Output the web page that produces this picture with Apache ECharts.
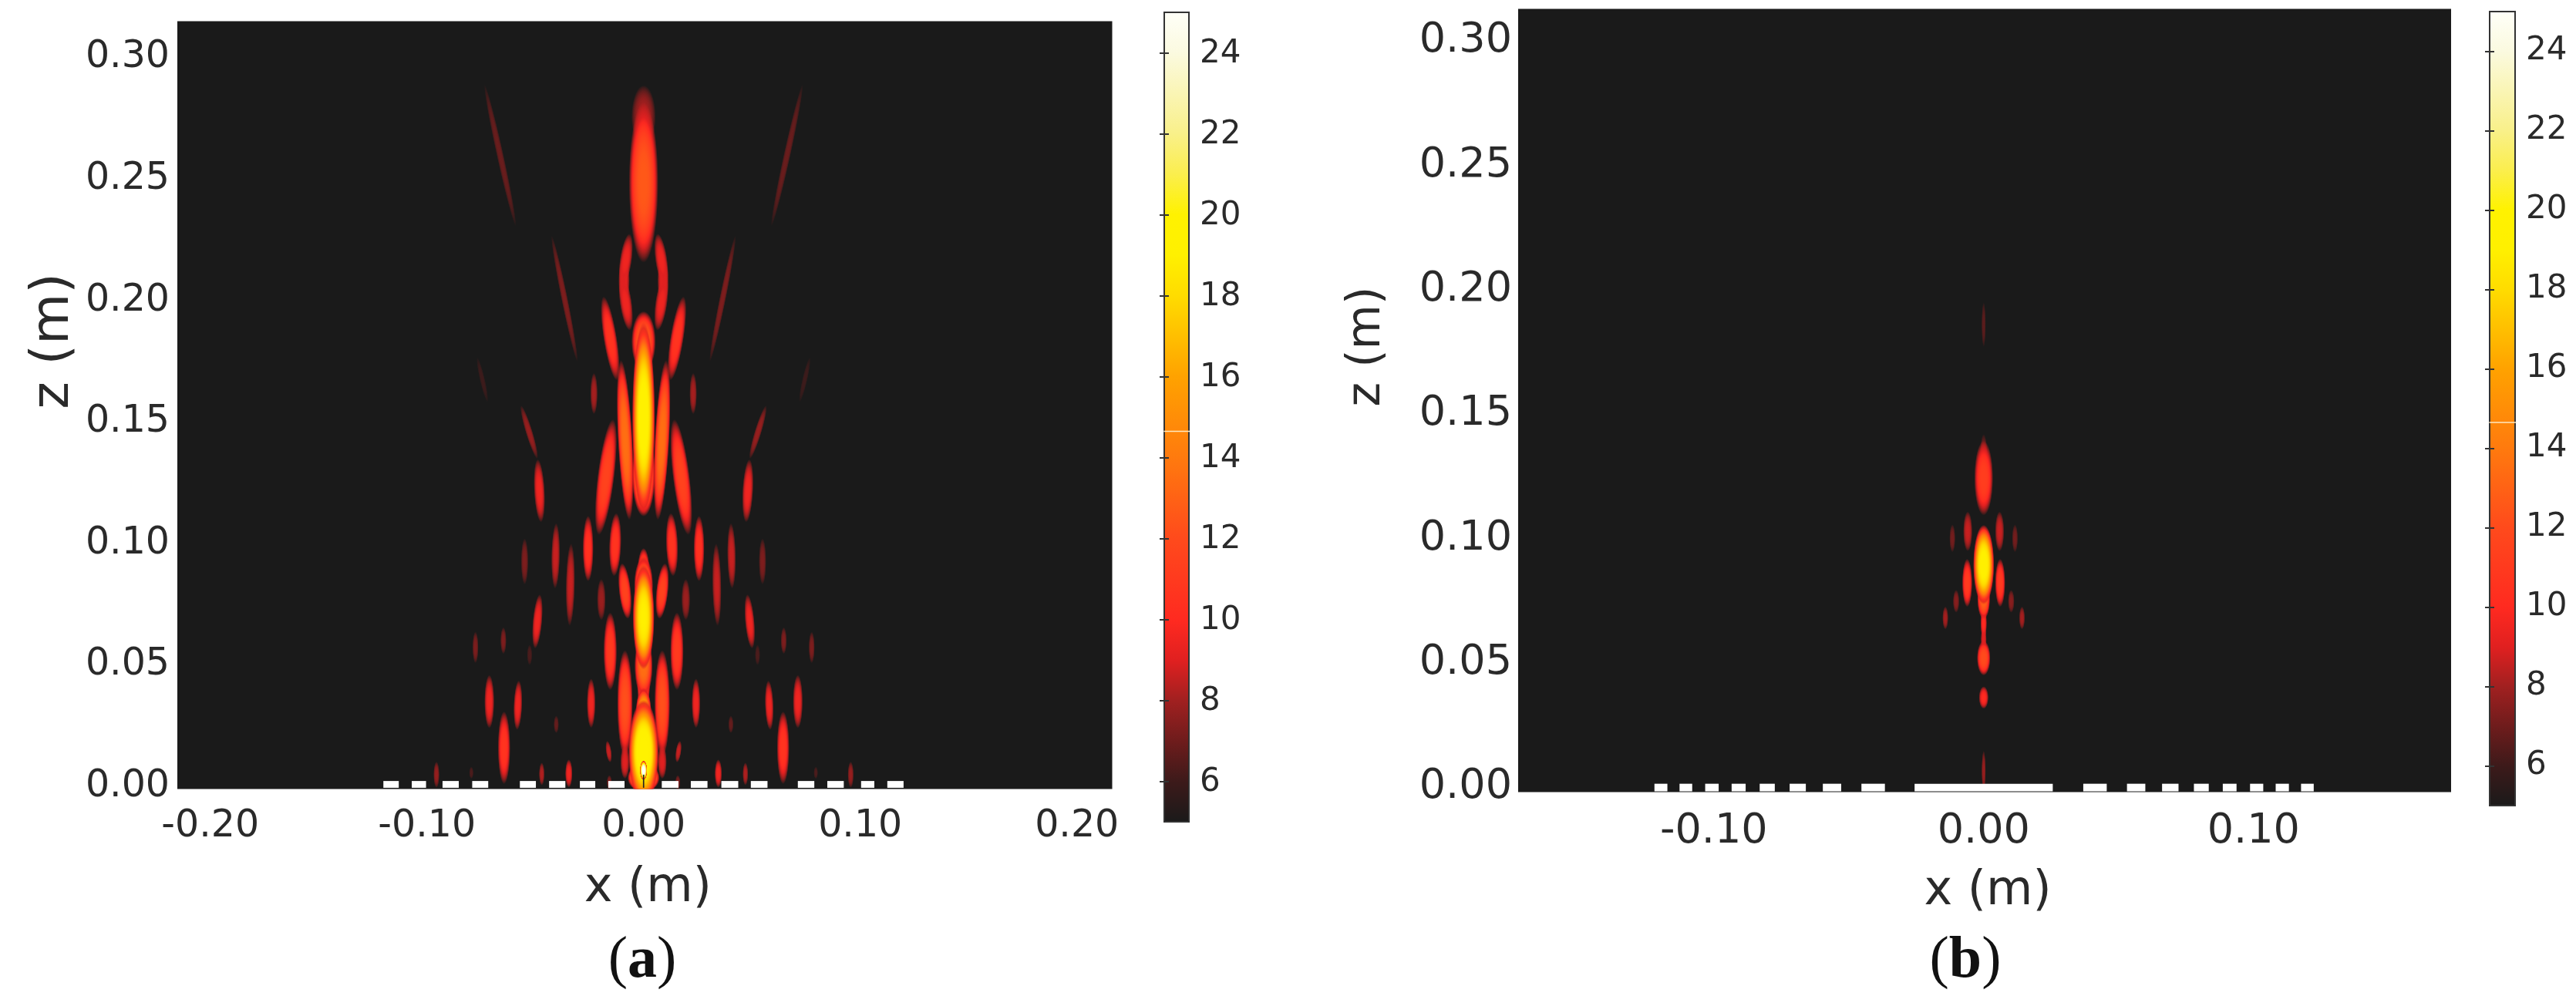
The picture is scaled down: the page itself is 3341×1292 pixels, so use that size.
<!DOCTYPE html>
<html><head><meta charset="utf-8">
<style>html,body{margin:0;padding:0;background:#fff}#c{width:3341px;height:1292px}</style>
<script src="https://cdn.jsdelivr.net/npm/echarts@6/dist/echarts.min.js"></script>
</head><body><div id="c"></div>
<script>
// ---------- data ----------
const zTicks = [0, 0.05, 0.10, 0.15, 0.20, 0.25, 0.30];
const xTicksA = [-0.20, -0.10, 0, 0.10, 0.20];
const xTicksB = [-0.10, 0, 0.10];
const barTicks = [6, 8, 10, 12, 14, 16, 18, 20, 22, 24];
const barSeam = 14.65;
const colorValues = [5, 6, 7, 8, 9, 10, 12, 14, 16, 18, 19, 20, 21, 22, 24, 25];
const colorHex = ['#1a1a1a','#3c1a1a','#6e1c1c','#a02020','#e02020','#ff2a20','#ff4a1c','#ff7a0e','#ffa200','#ffdc00','#fff000','#fff200','#fbee4e','#f9f08a','#fbfae0','#fffff8'];

// lobes: [x, z, half width, half height, peak level, lean in degrees]
const centerLobesA = [
  [0, 0.2740, 0.0056, 0.0130, 7.8, 0],
  [0, 0.2470, 0.0068, 0.0330, 12.6, 0],
  [0, 0.1815, 0.0056, 0.0125, 13, 0],
  [0, 0.1500, 0.0053, 0.0395, 19.5, 0],
  [0, 0.1270, 0.0054, 0.0175, 15, 0],
  [0, 0.0870, 0.0028, 0.0095, 12, 0],
  [0, 0.0810, 0.0044, 0.0120, 14, 0],
  [0, 0.0680, 0.0050, 0.0215, 19, 0],
  [0, 0.0480, 0.0042, 0.0130, 13.5, 0],
  [0, 0.0400, 0.0030, 0.0110, 12, 0],
  [0, 0.0290, 0.0036, 0.0100, 16, 0],
  [0, 0.0125, 0.0070, 0.0215, 20, 0],
  [0, 0.0020, 0.0074, 0.0060, 17, 0],
  [0, 0.0050, 0.0017, 0.0040, 25, 0]
];
const sideLobesA = [
  [0.0082, 0.2150, 0.0028, 0.0110, 9.5, -8],
  [0.0090, 0.2066, 0.0026, 0.0100, 9.3, 0],
  [0.0082, 0.1975, 0.0028, 0.0115, 9.5, 8],
  [0.0085, 0.1410, 0.0034, 0.0330, 13.5, 3],
  [0.0154, 0.1828, 0.0031, 0.0175, 10.6, 9],
  [0.0174, 0.1257, 0.0039, 0.0240, 11.5, -7],
  [0.0229, 0.1601, 0.0017, 0.0085, 7.8, 0],
  [0.0365, 0.1992, 0.0015, 0.0265, 7.0, 11.5],
  [0.0662, 0.2582, 0.0016, 0.0300, 6.6, 12.4],
  [0.0744, 0.1658, 0.0012, 0.0095, 5.7, 13],
  [0.0528, 0.1442, 0.0016, 0.0115, 7.5, 17],
  [0.0481, 0.1201, 0.0025, 0.0130, 9.5, 3],
  [0.0131, 0.0979, 0.0028, 0.0130, 10.6, -2],
  [0.0086, 0.0788, 0.0028, 0.0115, 11.5, 6],
  [0.0256, 0.0963, 0.0025, 0.0135, 10.5, 0],
  [0.0406, 0.0933, 0.0020, 0.0135, 8.5, -1],
  [0.0549, 0.0910, 0.0017, 0.0095, 7.0, 0],
  [0.0338, 0.0814, 0.0021, 0.0170, 8.5, -1],
  [0.0195, 0.0753, 0.0020, 0.0085, 7.6, 0],
  [0.0154, 0.0540, 0.0031, 0.0160, 11.0, 0],
  [0.0086, 0.0325, 0.0036, 0.0220, 12.2, 0],
  [0.0490, 0.0663, 0.0022, 0.0112, 9.5, -5],
  [0.0242, 0.0326, 0.0020, 0.0102, 9.5, 0],
  [0.0161, 0.0127, 0.0013, 0.0045, 8.5, 8],
  [0.0580, 0.0318, 0.0020, 0.0102, 9.5, -2],
  [0.0712, 0.0333, 0.0023, 0.0110, 9.5, 0],
  [0.0647, 0.0584, 0.0014, 0.0055, 7.0, 0],
  [0.0776, 0.0556, 0.0014, 0.0065, 7.0, 0],
  [0.0526, 0.0525, 0.0012, 0.0042, 6.0, 0],
  [0.0644, 0.0143, 0.0029, 0.0150, 10.6, 0],
  [0.0403, 0.0239, 0.0012, 0.0036, 6.5, 0],
  [0.0345, 0.0037, 0.0017, 0.0058, 9.5, 0],
  [0.0470, 0.0035, 0.0013, 0.0047, 8.0, 0],
  [0.0956, 0.0032, 0.0014, 0.0054, 7.5, 0],
  [0.0795, 0.0040, 0.0010, 0.0025, 6.0, 0],
  [0.0158, 0.0000, 0.0012, 0.0030, 7.0, 0],
  [0.0086, 0.0085, 0.0021, 0.0070, 9.0, 0]
];
const centerLobesB = [
  [0, 0.1243, 0.0035, 0.0150, 11.2, 0],
  [0, 0.1330, 0.0014, 0.0090, 7.0, 0],
  [0, 0.0895, 0.0039, 0.0160, 19.2, 0],
  [0, 0.0760, 0.0024, 0.0085, 13.0, 0],
  [0, 0.0660, 0.0012, 0.0065, 10.0, 0],
  [0, 0.0520, 0.0025, 0.0070, 12.0, 0],
  [0, 0.0595, 0.0011, 0.0050, 9.0, 0],
  [0, 0.0361, 0.0018, 0.0045, 10.0, 0],
  [0, 0.0066, 0.0008, 0.0082, 7.5, 0],
  [0, 0.1860, 0.0008, 0.0090, 6.3, 0]
];
const sideLobesB = [
  [0.0061, 0.0822, 0.0019, 0.0097, 11.0, 0],
  [0.0059, 0.1029, 0.0017, 0.0080, 8.5, 0],
  [0.0116, 0.1001, 0.0011, 0.0056, 6.8, 0],
  [0.0102, 0.0748, 0.0012, 0.0046, 7.2, 0],
  [0.0142, 0.0681, 0.0011, 0.0046, 7.8, 0]
];

// mask strips along the aperture: [x start, x end]
const stripsA = [[-0.1201,-0.1130],[-0.1070,-0.1004],[-0.0928,-0.0853],[-0.0791,-0.0717],[-0.0571,-0.0497],[-0.0436,-0.0361],[-0.0294,-0.0223],[-0.0163,-0.0088],
  [0.0084,0.0161],[0.0218,0.0295],[0.0359,0.0437],[0.0495,0.0572],[0.0712,0.0788],[0.0848,0.0924],[0.1004,0.1065],[0.1125,0.1200]];
const stripsB = [[-0.1220,-0.1172],[-0.1127,-0.1080],[-0.1032,-0.0982],[-0.0934,-0.0882],[-0.0830,-0.0774],[-0.0719,-0.0659],[-0.0596,-0.0528],[-0.0453,-0.0366],[-0.0256,0.0256],
  [0.0369,0.0456],[0.0531,0.0599],[0.0661,0.0722],[0.0779,0.0834],[0.0886,0.0937],[0.0987,0.1036],[0.1082,0.1131],[0.1176,0.1223]];
const stripZA = [-0.0022, 0.0006];
const stripZB = [-0.0016, 0.00146];
const probeA = [[-0.0003, 0.0003]];
const probeZA = [-0.0022, 0.0032];

// ---------- helpers ----------
function hex2rgb(h){return [1,3,5].map(i=>parseInt(h.substr(i,2),16));}
function colorRgb(v){
  const vs=colorValues; if(v<=vs[0])return hex2rgb(colorHex[0]);
  for(let i=1;i<vs.length;i++){ if(v<=vs[i]){const f=(v-vs[i-1])/(vs[i]-vs[i-1]);const a=hex2rgb(colorHex[i-1]),b=hex2rgb(colorHex[i]);return a.map((c,k)=>Math.round(c+(b[k]-c)*f));}}
  return hex2rgb(colorHex[vs.length-1]);
}
function lobeStops(p){
  const out=[],n=16,e=3.5;
  for(let i=0;i<=n;i++){
    const t=i/n, v=5+(p-5)*(1-Math.pow(t,e));
    let c,a=1;
    if(v<9){c=colorRgb(9);a=(v-5)/4;} else c=colorRgb(v);
    out.push({offset:t,color:'rgba('+c[0]+','+c[1]+','+c[2]+','+a.toFixed(3)+')'});
  }
  return out;
}
function allLobes(center,side){
  const rows=center.concat(side);
  side.forEach(r=>rows.push([-r[0],r[1],r[2],r[3],r[4],-r[5]]));
  return rows.slice().sort((a,b)=>a[4]-b[4]);
}
function renderLobe(params,api){
  const c=api.coord([api.value(0),api.value(1)]);
  const s=api.size([api.value(2),api.value(3)]);
  return {type:'circle',shape:{cx:0,cy:0,r:100},x:c[0],y:c[1],scaleX:s[0]/100,scaleY:s[1]/100,
    rotation:-api.value(5)*Math.PI/180,silent:true,
    style:{fill:{type:'radial',x:0.5,y:0.5,r:0.5,colorStops:lobeStops(api.value(4))}}};
}
function renderStrip(color){
  return function(params,api){
    const a=api.coord([api.value(0),api.value(3)]),b=api.coord([api.value(1),api.value(2)]);
    return {type:'rect',shape:{x:a[0],y:a[1],width:b[0]-a[0],height:b[1]-a[1]},style:{fill:color}};
  };
}
function renderBar(params,api){
  const a=api.coord([0,25]),b=api.coord([1,5]);
  return {type:'rect',shape:{x:a[0],y:a[1],width:b[0]-a[0],height:b[1]-a[1]},
    style:{stroke:'#333',lineWidth:2,fill:{type:'linear',x:0,y:1,x2:0,y2:0,
      colorStops:colorValues.map((v,i)=>({offset:(v-5)/20,color:colorHex[i]}))}}};
}
const F='"DejaVu Sans"';
const fmt2=v=>v.toFixed(2);
const ink='#2a2a2a';
function plotAxes(g,xr,zr,xt,cfg){
  return {
    x:{type:'value',gridIndex:g,min:xr[0],max:xr[1],name:'x (m)',nameLocation:'middle',nameGap:cfg.xNameGap,
      nameTextStyle:{fontFamily:F,fontSize:62,color:ink,padding:[0,0,0,8]},
      axisLine:{show:false},axisTick:{show:false},splitLine:{show:false},
      axisLabel:{customValues:xt,margin:cfg.xGap,fontFamily:F,fontSize:cfg.tick,color:ink,formatter:fmt2,hideOverlap:false}},
    y:{type:'value',gridIndex:g,min:zr[0],max:zr[1],name:'z (m)',nameLocation:'middle',nameGap:cfg.yNameGap,nameRotate:90,
      nameTextStyle:{fontFamily:F,fontSize:cfg.yNameSize,color:ink,padding:[0,0,0,cfg.yNamePad]},
      axisLine:{show:false},axisTick:{show:false},splitLine:{show:false},
      axisLabel:{customValues:zTicks,margin:cfg.yGap,hideOverlap:false,formatter:v=>'{a|'+fmt2(v)+'}',
        rich:{a:{fontFamily:F,fontSize:cfg.tick,color:ink,padding:[cfg.yLabelPad,0,0,0]}}}}
  };
}
function barAxes(g,labelPad){
  const tick={show:true,inside:true,length:6,lineStyle:{color:'#333',width:2},customValues:barTicks};
  return {
    x:{type:'value',gridIndex:g,min:0,max:1,show:false},
    r:{type:'value',gridIndex:g,min:5,max:25,position:'right',z:6,axisLine:{show:false},axisTick:tick,splitLine:{show:false},
       axisLabel:{customValues:barTicks,margin:14,hideOverlap:false,formatter:v=>'{a|'+v+'}',
         rich:{a:{fontFamily:F,fontSize:42,color:ink,padding:[labelPad,0,0,0]}}}},
    l:{type:'value',gridIndex:g,min:5,max:25,position:'left',z:6,axisLine:{show:false},axisTick:tick,splitLine:{show:false},axisLabel:{show:false}}
  };
}
const A=plotAxes(0,[-0.2152,0.2163],[-0.0027,0.3134],xTicksA,{tick:49,xGap:24,yGap:10,xNameGap:98,yNameGap:126,yNameSize:68,yNamePad:166,yLabelPad:10});
const B=plotAxes(1,[-0.1725,0.1732],[-0.0019,0.3129],xTicksB,{tick:54,xGap:24,yGap:8,xNameGap:98,yNameGap:166,yNameSize:60,yNamePad:140,yLabelPad:0});
const CA=barAxes(2,4), CB=barAxes(3,0);
const stripRows=(s,z)=>s.map(r=>[r[0],r[1],z[0],z[1]]);
const panelRich={p:{fontFamily:'"Liberation Serif"',fontSize:76,fontWeight:'normal',color:'#111'},b:{fontFamily:'"Liberation Serif"',fontSize:76,fontWeight:'bold',color:'#111'}};
const option={
  backgroundColor:'#ffffff',animation:false,
  title:[
    {text:'{p|(}{b|a}{p|)}',left:828,top:1204,textAlign:'center',textStyle:{fontWeight:'normal',rich:panelRich}},
    {text:'{p|(}{b|b}{p|)}',left:2544,top:1204,textAlign:'center',textStyle:{fontWeight:'normal',rich:panelRich}}
  ],
  grid:[
    {left:230,top:27.5,width:1212.5,height:996,show:true,backgroundColor:'#1a1a1a',borderWidth:0},
    {left:1969,top:11.5,width:1210,height:1016,show:true,backgroundColor:'#1a1a1a',borderWidth:0},
    {left:1510,top:16,width:32,height:1050},
    {left:3229,top:15,width:33,height:1030}
  ],
  xAxis:[A.x,B.x,CA.x,CB.x],
  yAxis:[A.y,B.y,CA.r,CA.l,CB.r,CB.l],
  series:[
    {type:'custom',name:'field a',xAxisIndex:0,yAxisIndex:0,clip:true,silent:true,renderItem:renderLobe,encode:{x:0,y:1},data:allLobes(centerLobesA,sideLobesA)},
    {type:'custom',name:'mask a',xAxisIndex:0,yAxisIndex:0,silent:true,renderItem:renderStrip('#ffffff'),encode:{x:[0,1],y:[2,3]},data:stripRows(stripsA,stripZA)},
    {type:'custom',name:'probe a',xAxisIndex:0,yAxisIndex:0,silent:true,renderItem:renderStrip('#222222'),encode:{x:[0,1],y:[2,3]},data:stripRows(probeA,probeZA)},
    {type:'custom',name:'field b',xAxisIndex:1,yAxisIndex:1,clip:true,silent:true,renderItem:renderLobe,encode:{x:0,y:1},data:allLobes(centerLobesB,sideLobesB)},
    {type:'custom',name:'mask b',xAxisIndex:1,yAxisIndex:1,silent:true,renderItem:renderStrip('#ffffff'),encode:{x:[0,1],y:[2,3]},data:stripRows(stripsB,stripZB)},
    {type:'custom',name:'bar a',xAxisIndex:2,yAxisIndex:2,silent:true,renderItem:renderBar,encode:{x:0,y:1},data:[[0,5],[1,25]]},
    {type:'line',name:'seam a',xAxisIndex:2,yAxisIndex:2,silent:true,showSymbol:false,z:5,clip:false,lineStyle:{color:'#ffe9c0',width:1.5},data:[[-0.02,barSeam],[1.04,barSeam]]},
    {type:'custom',name:'bar b',xAxisIndex:3,yAxisIndex:4,silent:true,renderItem:renderBar,encode:{x:0,y:1},data:[[0,5],[1,25]]},
    {type:'line',name:'seam b',xAxisIndex:3,yAxisIndex:4,silent:true,showSymbol:false,z:5,clip:false,lineStyle:{color:'#ffe9c0',width:1.5},data:[[-0.02,barSeam],[1.04,barSeam]]}
  ]
};
const chart=echarts.init(document.getElementById('c'),null,{renderer:'canvas',width:3341,height:1292});
chart.setOption(option);
</script></body></html>
